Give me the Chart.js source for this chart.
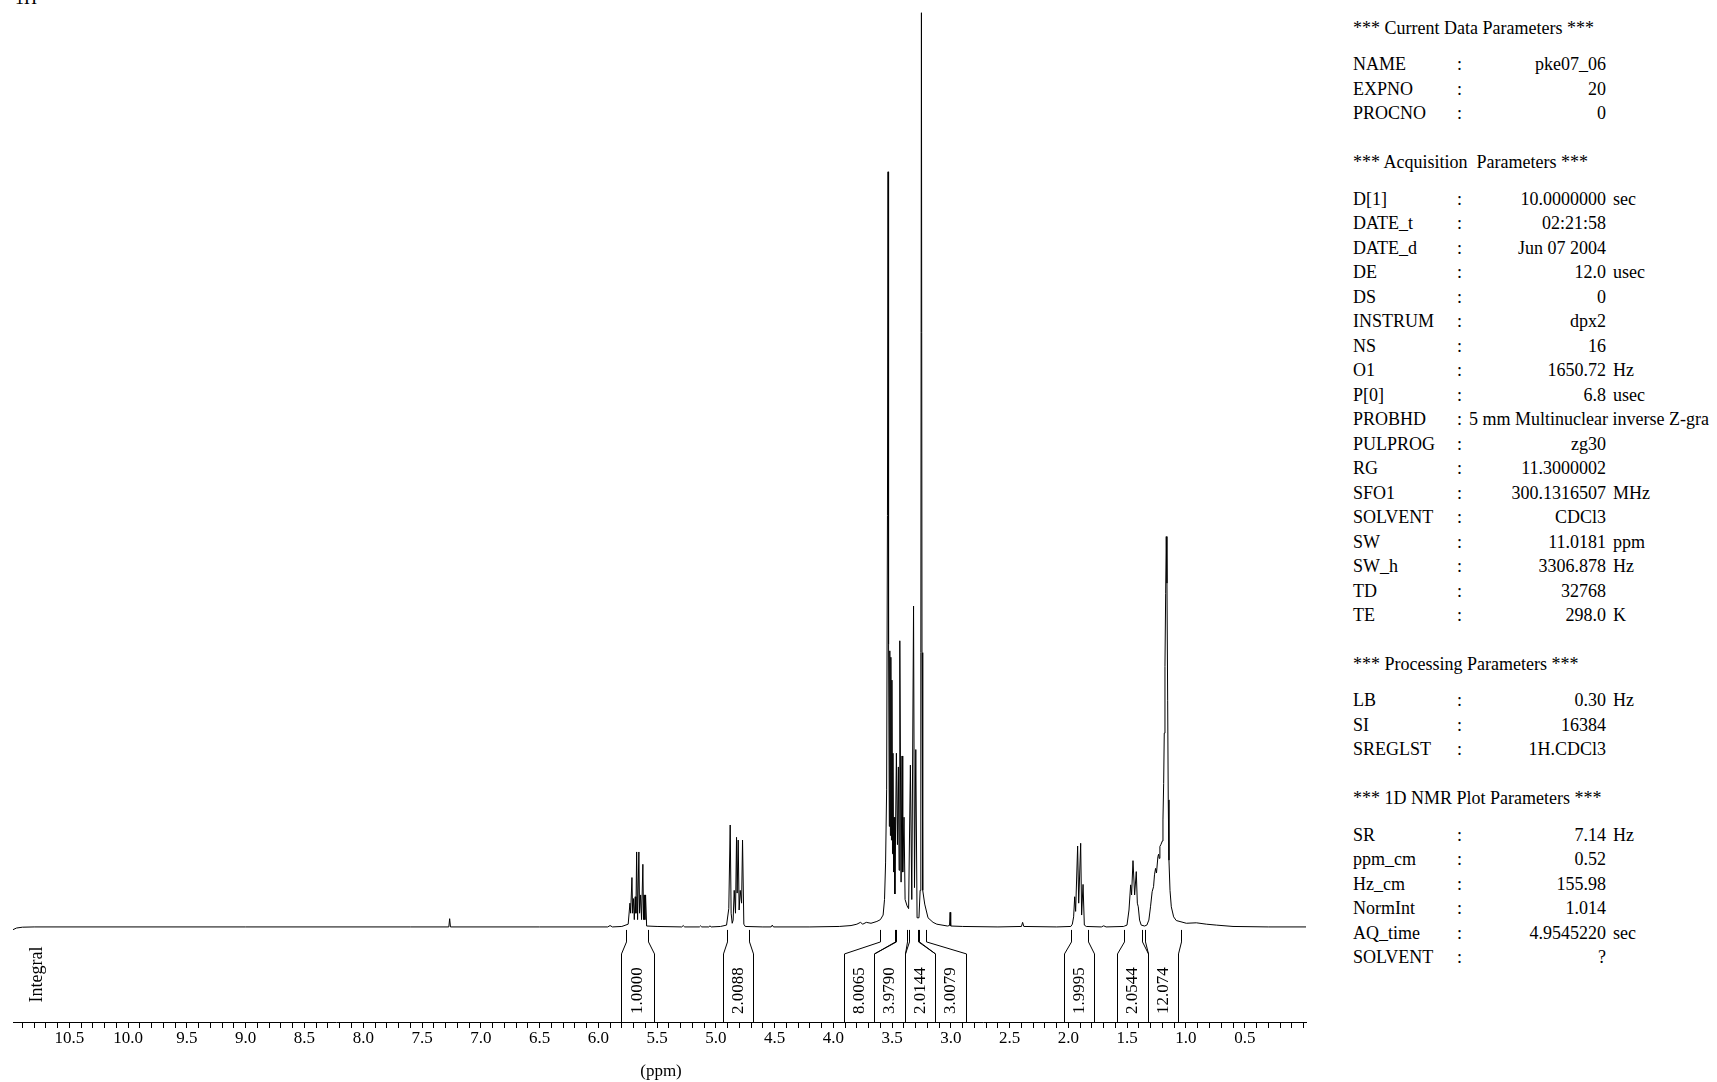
<!DOCTYPE html>
<html lang="en">
<head>
    <meta charset="UTF-8">
    <title>1H NMR spectrum - pke07_06</title>
    <style>
        body {
            margin: 0;
            width: 1717px;
            height: 1082px;
            overflow: hidden;
            background: #fff;
            color: #000;
            font-family: "Liberation Serif", "Times New Roman", serif;
            position: relative;
        }

        #plot {
            position: absolute;
            left: 0;
            top: 0;
        }

        .nucleus {
            position: absolute;
            left: 15px;
            top: -11px;
            font-size: 18px;
            line-height: 18px;
        }

        .unit-title {
            position: absolute;
            left: 561px;
            width: 200px;
            top: 1059px;
            text-align: center;
            font-size: 17px;
            line-height: 24px;
        }

        #params {
            position: absolute;
            left: 1353px;
            top: 16px;
            width: 364px;
            font-size: 18px;
            white-space: nowrap;
        }

        #params .hdr {
            height: 36.3px;
            line-height: 24.5px;
        }

        #params .row {
            position: relative;
            height: 24.5px;
            line-height: 24.5px;
        }

        #params .gap {
            height: 24.5px;
        }

        .row span { position: absolute; top: 0; }
        .row .c { left: 104px; }
        .row .v { left: 0; width: 253px; text-align: right; }
        .row .u { left: 260px; }
        .row .w { left: 116px; }
    </style>
    <script src="https://cdn.jsdelivr.net/npm/chart.js"></script>
</head>
<body>
    <div class="nucleus">1H</div>
    <canvas id="plot" width="1320" height="1082"></canvas>
    <div class="unit-title">(ppm)</div>

    <div id="params">
        <div class="hdr">*** Current Data Parameters ***</div>
        <div class="row"><span>NAME</span><span class="c">:</span><span class="v">pke07_06</span></div>
        <div class="row"><span>EXPNO</span><span class="c">:</span><span class="v">20</span></div>
        <div class="row"><span>PROCNO</span><span class="c">:</span><span class="v">0</span></div>
        <div class="gap"></div>

        <div class="hdr">*** Acquisition&nbsp; Parameters ***</div>
        <div class="row"><span>D[1]</span><span class="c">:</span><span class="v">10.0000000</span><span class="u">sec</span></div>
        <div class="row"><span>DATE_t</span><span class="c">:</span><span class="v">02:21:58</span></div>
        <div class="row"><span>DATE_d</span><span class="c">:</span><span class="v">Jun 07 2004</span></div>
        <div class="row"><span>DE</span><span class="c">:</span><span class="v">12.0</span><span class="u">usec</span></div>
        <div class="row"><span>DS</span><span class="c">:</span><span class="v">0</span></div>
        <div class="row"><span>INSTRUM</span><span class="c">:</span><span class="v">dpx2</span></div>
        <div class="row"><span>NS</span><span class="c">:</span><span class="v">16</span></div>
        <div class="row"><span>O1</span><span class="c">:</span><span class="v">1650.72</span><span class="u">Hz</span></div>
        <div class="row"><span>P[0]</span><span class="c">:</span><span class="v">6.8</span><span class="u">usec</span></div>
        <div class="row"><span>PROBHD</span><span class="c">:</span><span class="w">5 mm Multinuclear inverse Z-gra</span></div>
        <div class="row"><span>PULPROG</span><span class="c">:</span><span class="v">zg30</span></div>
        <div class="row"><span>RG</span><span class="c">:</span><span class="v">11.3000002</span></div>
        <div class="row"><span>SFO1</span><span class="c">:</span><span class="v">300.1316507</span><span class="u">MHz</span></div>
        <div class="row"><span>SOLVENT</span><span class="c">:</span><span class="v">CDCl3</span></div>
        <div class="row"><span>SW</span><span class="c">:</span><span class="v">11.0181</span><span class="u">ppm</span></div>
        <div class="row"><span>SW_h</span><span class="c">:</span><span class="v">3306.878</span><span class="u">Hz</span></div>
        <div class="row"><span>TD</span><span class="c">:</span><span class="v">32768</span></div>
        <div class="row"><span>TE</span><span class="c">:</span><span class="v">298.0</span><span class="u">K</span></div>
        <div class="gap"></div>

        <div class="hdr">*** Processing Parameters ***</div>
        <div class="row"><span>LB</span><span class="c">:</span><span class="v">0.30</span><span class="u">Hz</span></div>
        <div class="row"><span>SI</span><span class="c">:</span><span class="v">16384</span></div>
        <div class="row"><span>SREGLST</span><span class="c">:</span><span class="v">1H.CDCl3</span></div>
        <div class="gap"></div>

        <div class="hdr">*** 1D NMR Plot Parameters ***</div>
        <div class="row"><span>SR</span><span class="c">:</span><span class="v">7.14</span><span class="u">Hz</span></div>
        <div class="row"><span>ppm_cm</span><span class="c">:</span><span class="v">0.52</span></div>
        <div class="row"><span>Hz_cm</span><span class="c">:</span><span class="v">155.98</span></div>
        <div class="row"><span>NormInt</span><span class="c">:</span><span class="v">1.014</span></div>
        <div class="row"><span>AQ_time</span><span class="c">:</span><span class="v">4.9545220</span><span class="u">sec</span></div>
        <div class="row"><span>SOLVENT</span><span class="c">:</span><span class="v">?</span></div>
    </div>

    <script>
        // spectrum: chemical shift (ppm) and relative intensity (tallest line = 100)
        const shift = [
            10.98, 10.95, 10.90, 10.80, 9.00, 7.60,
            7.272, 7.265, 7.258,
            6.50, 5.92, 5.90, 5.88, 5.80,
            5.746, 5.731, 5.725, 5.714, 5.708, 5.700, 5.694, 5.686, 5.680, 5.674, 5.666,
            5.655, 5.649, 5.640, 5.632, 5.621, 5.615, 5.610, 5.604, 5.598, 5.589,
            5.50, 5.29, 5.278, 5.265, 5.14, 5.13, 5.12, 5.06, 5.05, 5.04, 4.96,
            4.909, 4.890, 4.878, 4.870, 4.861, 4.853, 4.844, 4.833, 4.824, 4.819,
            4.810, 4.802, 4.793, 4.781, 4.773, 4.762, 4.75,
            4.60, 4.53, 4.52, 4.51, 4.20, 3.95, 3.85, 3.80, 3.77, 3.75, 3.72, 3.68,
            3.63, 3.60, 3.577, 3.565, 3.556, 3.547, 3.540, 3.535, 3.532,
            3.529, 3.524, 3.520, 3.515, 3.511, 3.506, 3.502, 3.497, 3.493, 3.488, 3.484, 3.477,
            3.464, 3.455, 3.447, 3.441, 3.435, 3.424, 3.416, 3.410, 3.399, 3.390, 3.373, 3.360,
            3.345, 3.333, 3.318, 3.310, 3.299, 3.288, 3.272, 3.262, 3.256, 3.251, 3.246, 3.240,
            3.223, 3.195, 3.152, 3.12, 3.03, 3.012, 3.007, 3.002, 2.90,
            2.60, 2.40, 2.39, 2.38, 2.10, 1.98,
            1.967, 1.956, 1.947, 1.939, 1.922, 1.913, 1.896, 1.888, 1.876, 1.865, 1.848,
            1.72, 1.70, 1.68, 1.53,
            1.522, 1.502, 1.485, 1.471, 1.463, 1.451, 1.437, 1.423, 1.414, 1.406, 1.395, 1.381,
            1.353, 1.333, 1.316, 1.302, 1.288, 1.276, 1.268, 1.259, 1.251, 1.239, 1.233, 1.228,
            1.222, 1.214, 1.201, 1.196, 1.190, 1.185, 1.179, 1.173, 1.168, 1.162, 1.156, 1.151,
            1.145, 1.136, 1.125, 1.105, 1.083, 0.997, 0.912, 0.827, 0.742, 0.60, 0.30, -0.021
        ];
        const intensity = [
            -0.3, -0.12, -0.03, 0, 0, 0,
            0, 0.9, 0,
            0, 0, 0.15, 0, 0.05,
            0.3, 2.6, 1.5, 5.4, 1.5, 3.1, 0.8, 3.3, 1.5, 8.2, 0.8,
            8.2, 1.5, 3.5, 0.8, 6.85, 0.8, 3.5, 0.8, 3.5, 0.1,
            0.05, 0, 0.15, 0, 0, 0.12, 0, 0, 0.12, 0, 0.05,
            0.2, 2, 11.15, 1.5, 0.4, 0.75, 4, 1.5, 9.8, 3.7,
            9.5, 1.85, 4, 2.6, 9.5, 0.3, 0.05,
            0, 0, 0.2, 0, 0, 0.05, 0.15, 0.3, 0.5, 0.3, 0.5, 0.4,
            0.6, 0.8, 1.3, 3, 7, 15, 45, 82.6, 45,
            30.9, 11, 30.2, 10, 29.5, 9.5, 27, 8, 19, 6, 12, 3.6,
            19, 9, 17.5, 6.2, 31.3, 4.9, 18.7, 6, 12, 3, 2.3, 2,
            17.7, 3, 35.1, 4.3, 19.4, 1, 1, 4, 30, 100, 30, 4,
            2.5, 1, 0.5, 0.3, 0.1, 0.15, 1.6, 0.1, 0.05,
            0, 0.05, 0.5, 0.05, 0, 0.05,
            0.3, 1.1, 3.3, 1.7, 8.85, 2.6, 9.15, 1.3, 4.65, 0.2, 0.05,
            0, 0.12, 0, 0.05,
            0.1, 0.2, 1.85, 4.6, 3.5, 7.25, 3.5, 6.05, 2.6, 2.2, 0.75, 0.2,
            0.1, 0.2, 0.75, 2.2, 3.85, 4.4, 5.7, 6.4, 5.9, 7.7, 7.95, 7.5,
            8.8, 9.0, 9.4, 11.7, 15.7, 21.2, 28.5, 36.5, 42.7, 37.6, 24.8, 13.9,
            7.3, 4.0, 2.2, 1.1, 0.7, 0.4, 0.45, 0.3, 0.2, 0.05, 0, 0
        ];

        // integrals: value, integrated range (ppm) and the range of its label box (ppm)
        const integralValues = ['1.0000', '2.0088', '8.0065', '3.9790', '2.0144', '3.0079', '1.9995', '2.0544', '12.074'];
        const integralRange = [
            [5.763, 5.577], [4.907, 4.722], [3.605, 3.479], [3.466, 3.371], [3.358, 3.282],
            [3.270, 3.208], [1.981, 1.838], [1.524, 1.374], [1.349, 1.045]
        ];
        const integralBox = [
            [5.808, 5.527], [4.943, 4.682], [3.912, 3.654], [3.654, 3.393], [3.393, 3.138],
            [3.138, 2.868], [2.042, 1.781], [1.588, 1.327], [1.327, 1.071]
        ];

        const tickLabels = ['10.5', '10.0', '9.5', '9.0', '8.5', '8.0', '7.5', '7.0', '6.5', '6.0', '5.5',
            '5.0', '4.5', '4.0', '3.5', '3.0', '2.5', '2.0', '1.5', '1.0', '0.5'];

        const serif = '"Liberation Serif", "Times New Roman", serif';

        // integral brackets and their labels under the spectrum
        const integralPlugin = {
            id: 'integrals',
            afterDatasetsDraw(chart) {
                const { ctx, chartArea, scales } = chart;
                const base = scales.y.getPixelForValue(0);
                const axis = chartArea.bottom;
                ctx.save();
                ctx.strokeStyle = '#000';
                ctx.fillStyle = '#000';
                ctx.lineWidth = 1;

                integralRange.forEach((range, i) => {
                    const xb = [];
                    [0, 1].forEach(k => {
                        const xt = Math.round(scales.x.getPixelForValue(range[k])) + 0.5;
                        const xd = Math.round(scales.x.getPixelForValue(integralBox[i][k])) + 0.5;
                        xb.push(xd);
                        ctx.beginPath();
                        ctx.moveTo(xt, base + 3);
                        ctx.lineTo(xt, base + 15);
                        ctx.lineTo(xd, base + 27);
                        ctx.lineTo(xd, axis);
                        ctx.stroke();
                    });
                    ctx.save();
                    ctx.translate((xb[0] + xb[1]) / 2, axis - 8);
                    ctx.rotate(-Math.PI / 2);
                    ctx.font = '17px ' + serif;
                    ctx.textAlign = 'left';
                    ctx.textBaseline = 'middle';
                    ctx.fillText(integralValues[i], 0, 0);
                    ctx.restore();
                });

                ctx.translate(chartArea.left + 24, (base + axis) / 2);
                ctx.rotate(-Math.PI / 2);
                ctx.font = '18px ' + serif;
                ctx.textAlign = 'center';
                ctx.textBaseline = 'middle';
                ctx.fillText('Integral', 0, 0);
                ctx.restore();
            }
        };

        new Chart(document.getElementById('plot'), {
            type: 'line',
            data: {
                datasets: [{
                    data: shift.map((s, i) => ({ x: s, y: intensity[i] })),
                    borderColor: '#000',
                    borderWidth: 1,
                    pointRadius: 0,
                    fill: false,
                    tension: 0
                }]
            },
            options: {
                responsive: false,
                animation: false,
                devicePixelRatio: 1,
                layout: { padding: { left: 13, right: 14, top: 10, bottom: 0 } },
                plugins: {
                    legend: { display: false },
                    tooltip: { enabled: false }
                },
                scales: {
                    x: {
                        type: 'linear',
                        reverse: true,
                        min: -0.021,
                        max: 10.98,
                        afterFit(scale) { scale.height = 60; },
                        border: { display: true, color: '#000', width: 1 },
                        grid: {
                            drawOnChartArea: false,
                            drawTicks: true,
                            tickLength: 6,
                            tickColor: '#000',
                            tickWidth: 1
                        },
                        ticks: {
                            stepSize: 0.1,
                            includeBounds: false,
                            autoSkip: false,
                            maxRotation: 0,
                            minRotation: 0,
                            padding: 0,
                            color: '#000',
                            font: { family: serif, size: 17 },
                            callback: (v) => {
                                const t = Number(v).toFixed(1);
                                return tickLabels.includes(t) ? t : '';
                            }
                        }
                    },
                    y: {
                        display: false,
                        min: -10.4,
                        max: 100.3
                    }
                }
            },
            plugins: [integralPlugin]
        });
    </script>
</body>
</html>
